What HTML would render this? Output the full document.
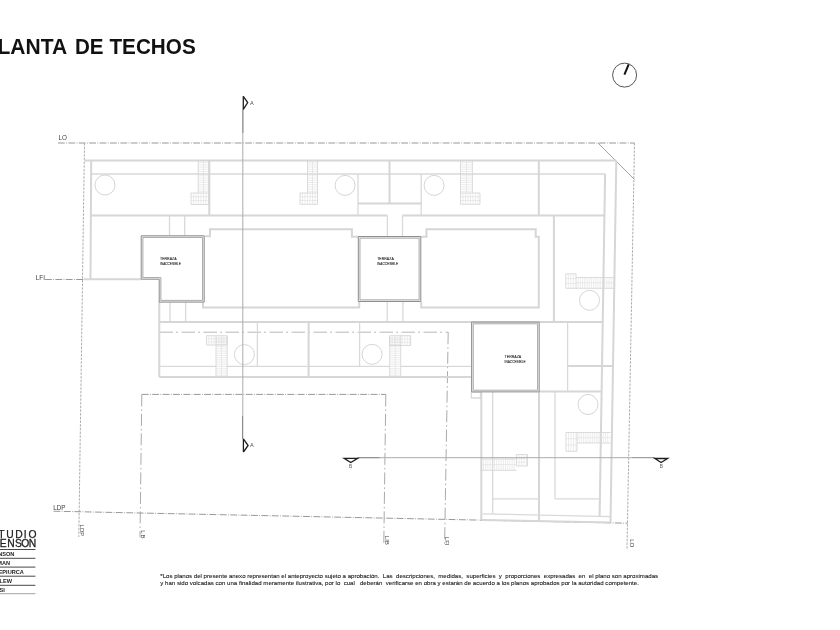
<!DOCTYPE html>
<html><head><meta charset="utf-8"><title>Planta de techos</title>
<style>
html,body{margin:0;padding:0;background:#fff;}
body{width:840px;height:630px;overflow:hidden;position:relative;font-family:"Liberation Sans",sans-serif;}
svg{position:absolute;left:0;top:0;filter:grayscale(1);}
text{font-family:"Liberation Sans",sans-serif;}
.t{stroke:#d9d9d9;stroke-width:1.3;fill:none;}
.w{stroke:#d6d6d6;stroke-width:2;fill:none;}
.dd{stroke:#8c8c8c;stroke-width:0.9;fill:none;stroke-dasharray:6.8 1.4 0.8 1.4;}
.dv{stroke:#a4a4a4;stroke-width:0.9;fill:none;stroke-dasharray:2.5 1.2;}
.dl{stroke:#b8b8b8;stroke-width:1;fill:none;stroke-dasharray:13.5 3 2 3.5;}
.dr{stroke:#a0a0a0;stroke-width:0.9;fill:none;stroke-dasharray:12 3 1.5 3;}
.dg{stroke:#888;stroke-width:0.8;fill:none;}
.ci{stroke:#d0d0d0;stroke-width:0.9;fill:none;}
.st{stroke:#d2d2d2;stroke-width:0.8;fill:none;}
.sh{stroke:#dedede;stroke-width:0.6;fill:none;}
.tr{stroke:#8e8e8e;stroke-width:1;fill:none;}
.trb{stroke:#ececec;stroke-width:1.8;fill:none;}
.tri{stroke:#a6a6a6;stroke-width:0.9;fill:none;}
.sc{stroke:#acacac;stroke-width:1;fill:none;}
.sm{stroke:#8a8a8a;stroke-width:1;fill:none;}
.tri2{stroke:#1e1e1e;stroke-width:1.3;fill:none;stroke-linejoin:miter;}
.tz{font-size:4.3px;fill:#2a2a2a;stroke:#2a2a2a;stroke-width:0.12;}
.sl{font-size:4.8px;fill:#555;}
.sla{font-size:5.5px;fill:#4a4a4a;}
.lb{font-size:6.3px;fill:#3c3c3c;}
.lr{font-size:6.0px;fill:#444;}
.ttl{font-size:21px;font-weight:bold;fill:#111;}
.ft{font-size:6.08px;fill:#1a1a1a;stroke:#1a1a1a;stroke-width:0.1;white-space:pre;}
.nm{font-size:5.6px;font-weight:bold;fill:#222;}
</style></head><body>
<svg width="840" height="630" viewBox="0 0 840 630">
<g transform="translate(0 53.6) scale(1 1.08) translate(0 -53.6)">
<text class="ttl" x="-2.5" y="53.6">LANTA</text>
<text class="ttl" x="75" y="53.6" textLength="28.6" lengthAdjust="spacingAndGlyphs">DE</text>
<text class="ttl" x="109.5" y="53.6" textLength="86.2" lengthAdjust="spacingAndGlyphs">TECHOS</text>
</g>
<g id="plan">
<line class="dd" x1="58" y1="143" x2="634.5" y2="143"/>
<line class="dg" x1="598" y1="143" x2="634.5" y2="179.5"/>
<line class="dv" x1="84.5" y1="143" x2="78.8" y2="537"/>
<line class="dv" x1="634.5" y1="143" x2="627" y2="549"/>
<line class="dd" x1="45" y1="279.5" x2="141" y2="279.5"/>
<line class="w" x1="83.5" y1="279.3" x2="141" y2="279.3"/>
<line class="dd" x1="53.5" y1="511.2" x2="627.6" y2="523.2"/>
<line class="dd" x1="141.8" y1="394.4" x2="385.8" y2="394.4"/>
<line class="dr" x1="141.8" y1="394.4" x2="140" y2="537.5"/>
<line class="dr" x1="385.8" y1="394.4" x2="383.8" y2="543"/>
<line class="dl" x1="159.5" y1="332.2" x2="448.2" y2="332.2"/>
<line class="dr" x1="448.2" y1="332.2" x2="444.6" y2="545"/>
<line class="w" x1="84.5" y1="160.4" x2="616.3" y2="160.4"/>
<line class="t" x1="91.2" y1="174" x2="605" y2="174"/>
<line class="w" x1="91.2" y1="215.5" x2="387.4" y2="215.5"/>
<line class="w" x1="402.5" y1="215.5" x2="605" y2="215.5"/>
<line class="w" x1="91.2" y1="160.5" x2="90.5" y2="279.3"/>
<line class="w" x1="209.3" y1="160.5" x2="209.3" y2="215.5"/>
<line class="t" x1="358" y1="174" x2="358" y2="215.5"/>
<line class="w" x1="389.5" y1="160.5" x2="389.5" y2="203.5"/>
<line class="t" x1="421.2" y1="174" x2="421.2" y2="215.5"/>
<line class="w" x1="358" y1="203.5" x2="421.2" y2="203.5"/>
<line class="w" x1="538.8" y1="160.5" x2="538.8" y2="215.5"/>
<line class="w" x1="616.3" y1="160.4" x2="610.5" y2="522.4"/>
<line class="w" x1="605.1" y1="174" x2="599.6" y2="516.5"/>
<circle class="ci" cx="105" cy="185" r="10"/>
<circle class="ci" cx="345.1" cy="185.4" r="10"/>
<circle class="ci" cx="434.1" cy="185.4" r="10"/>
<line class="st" x1="198.2" y1="160.5" x2="198.2" y2="193"/>
<line class="st" x1="208.8" y1="160.5" x2="208.8" y2="193"/>
<line class="sh" x1="198.2" y1="162.7" x2="208.8" y2="162.7"/>
<line class="sh" x1="198.2" y1="164.9" x2="208.8" y2="164.9"/>
<line class="sh" x1="198.2" y1="167.1" x2="208.8" y2="167.1"/>
<line class="sh" x1="198.2" y1="169.3" x2="208.8" y2="169.3"/>
<line class="sh" x1="198.2" y1="171.5" x2="208.8" y2="171.5"/>
<line class="sh" x1="198.2" y1="173.7" x2="208.8" y2="173.7"/>
<line class="sh" x1="198.2" y1="175.9" x2="208.8" y2="175.9"/>
<line class="sh" x1="198.2" y1="178.1" x2="208.8" y2="178.1"/>
<line class="sh" x1="198.2" y1="180.3" x2="208.8" y2="180.3"/>
<line class="sh" x1="198.2" y1="182.5" x2="208.8" y2="182.5"/>
<line class="sh" x1="198.2" y1="184.7" x2="208.8" y2="184.7"/>
<line class="sh" x1="198.2" y1="186.9" x2="208.8" y2="186.9"/>
<line class="sh" x1="198.2" y1="189.1" x2="208.8" y2="189.1"/>
<line class="sh" x1="198.2" y1="191.3" x2="208.8" y2="191.3"/>
<line class="sh" x1="203.5" y1="160.5" x2="203.5" y2="193"/>
<path class="st" d="M191 193 L208.8 193 L208.8 204.5 L191 204.5 Z"/>
<line class="sh" x1="191" y1="196.83" x2="208.8" y2="196.83"/>
<line class="sh" x1="191" y1="200.67" x2="208.8" y2="200.67"/>
<line class="sh" x1="193.5" y1="193" x2="193.5" y2="204.5"/>
<line class="sh" x1="196" y1="193" x2="196" y2="204.5"/>
<line class="sh" x1="198.5" y1="193" x2="198.5" y2="204.5"/>
<line class="sh" x1="201" y1="193" x2="201" y2="204.5"/>
<line class="sh" x1="203.5" y1="193" x2="203.5" y2="204.5"/>
<line class="sh" x1="206" y1="193" x2="206" y2="204.5"/>
<line class="st" x1="307.5" y1="160.5" x2="307.5" y2="193"/>
<line class="st" x1="317.5" y1="160.5" x2="317.5" y2="193"/>
<line class="sh" x1="307.5" y1="162.7" x2="317.5" y2="162.7"/>
<line class="sh" x1="307.5" y1="164.9" x2="317.5" y2="164.9"/>
<line class="sh" x1="307.5" y1="167.1" x2="317.5" y2="167.1"/>
<line class="sh" x1="307.5" y1="169.3" x2="317.5" y2="169.3"/>
<line class="sh" x1="307.5" y1="171.5" x2="317.5" y2="171.5"/>
<line class="sh" x1="307.5" y1="173.7" x2="317.5" y2="173.7"/>
<line class="sh" x1="307.5" y1="175.9" x2="317.5" y2="175.9"/>
<line class="sh" x1="307.5" y1="178.1" x2="317.5" y2="178.1"/>
<line class="sh" x1="307.5" y1="180.3" x2="317.5" y2="180.3"/>
<line class="sh" x1="307.5" y1="182.5" x2="317.5" y2="182.5"/>
<line class="sh" x1="307.5" y1="184.7" x2="317.5" y2="184.7"/>
<line class="sh" x1="307.5" y1="186.9" x2="317.5" y2="186.9"/>
<line class="sh" x1="307.5" y1="189.1" x2="317.5" y2="189.1"/>
<line class="sh" x1="307.5" y1="191.3" x2="317.5" y2="191.3"/>
<line class="sh" x1="312.5" y1="160.5" x2="312.5" y2="193"/>
<path class="st" d="M300 193 L317.5 193 L317.5 204.3 L300 204.3 Z"/>
<line class="sh" x1="300" y1="196.77" x2="317.5" y2="196.77"/>
<line class="sh" x1="300" y1="200.53" x2="317.5" y2="200.53"/>
<line class="sh" x1="302.5" y1="193" x2="302.5" y2="204.3"/>
<line class="sh" x1="305" y1="193" x2="305" y2="204.3"/>
<line class="sh" x1="307.5" y1="193" x2="307.5" y2="204.3"/>
<line class="sh" x1="310" y1="193" x2="310" y2="204.3"/>
<line class="sh" x1="312.5" y1="193" x2="312.5" y2="204.3"/>
<line class="sh" x1="315" y1="193" x2="315" y2="204.3"/>
<line class="st" x1="460.5" y1="160.5" x2="460.5" y2="193"/>
<line class="st" x1="472.4" y1="160.5" x2="472.4" y2="193"/>
<line class="sh" x1="460.5" y1="162.7" x2="472.4" y2="162.7"/>
<line class="sh" x1="460.5" y1="164.9" x2="472.4" y2="164.9"/>
<line class="sh" x1="460.5" y1="167.1" x2="472.4" y2="167.1"/>
<line class="sh" x1="460.5" y1="169.3" x2="472.4" y2="169.3"/>
<line class="sh" x1="460.5" y1="171.5" x2="472.4" y2="171.5"/>
<line class="sh" x1="460.5" y1="173.7" x2="472.4" y2="173.7"/>
<line class="sh" x1="460.5" y1="175.9" x2="472.4" y2="175.9"/>
<line class="sh" x1="460.5" y1="178.1" x2="472.4" y2="178.1"/>
<line class="sh" x1="460.5" y1="180.3" x2="472.4" y2="180.3"/>
<line class="sh" x1="460.5" y1="182.5" x2="472.4" y2="182.5"/>
<line class="sh" x1="460.5" y1="184.7" x2="472.4" y2="184.7"/>
<line class="sh" x1="460.5" y1="186.9" x2="472.4" y2="186.9"/>
<line class="sh" x1="460.5" y1="189.1" x2="472.4" y2="189.1"/>
<line class="sh" x1="460.5" y1="191.3" x2="472.4" y2="191.3"/>
<line class="sh" x1="466.45" y1="160.5" x2="466.45" y2="193"/>
<path class="st" d="M460.5 193 L480 193 L480 204.3 L460.5 204.3 Z"/>
<line class="sh" x1="460.5" y1="196.77" x2="480" y2="196.77"/>
<line class="sh" x1="460.5" y1="200.53" x2="480" y2="200.53"/>
<line class="sh" x1="463" y1="193" x2="463" y2="204.3"/>
<line class="sh" x1="465.5" y1="193" x2="465.5" y2="204.3"/>
<line class="sh" x1="468" y1="193" x2="468" y2="204.3"/>
<line class="sh" x1="470.5" y1="193" x2="470.5" y2="204.3"/>
<line class="sh" x1="473" y1="193" x2="473" y2="204.3"/>
<line class="sh" x1="475.5" y1="193" x2="475.5" y2="204.3"/>
<line class="sh" x1="478" y1="193" x2="478" y2="204.3"/>
<line class="t" x1="169.5" y1="215.5" x2="169.5" y2="235.5"/>
<line class="t" x1="184.7" y1="215.5" x2="184.7" y2="235.5"/>
<line class="t" x1="387.4" y1="215.5" x2="387.4" y2="236.5"/>
<line class="t" x1="402.5" y1="215.5" x2="402.5" y2="236.5"/>
<line class="w" x1="553.9" y1="215.5" x2="553.9" y2="322"/>
<path class="w" d="M205 236.3 L210 236.3 L210 229.2 L351.9 229.2 L351.9 236.7 L358 236.7"/>
<path class="w" d="M203 301.8 L203 307.6 L359.2 307.6 L359.2 301.5"/>
<path class="w" d="M421.2 236.7 L426.5 236.7 L426.5 229.2 L535.7 229.2 L535.7 236.7 L538.8 236.7 L538.8 307.6 L421.2 307.6 L421.2 301.5"/>
<line class="t" x1="170" y1="301.5" x2="170" y2="322"/>
<line class="t" x1="185.6" y1="301.5" x2="185.6" y2="322"/>
<line class="t" x1="387.2" y1="301.5" x2="387.2" y2="322"/>
<line class="t" x1="402.9" y1="301.5" x2="402.9" y2="322"/>
<line class="st" x1="576" y1="277.5" x2="614.5" y2="277.5"/>
<line class="st" x1="576" y1="288.3" x2="614.5" y2="288.3"/>
<line class="sh" x1="578.2" y1="277.5" x2="578.2" y2="288.3"/>
<line class="sh" x1="580.4" y1="277.5" x2="580.4" y2="288.3"/>
<line class="sh" x1="582.6" y1="277.5" x2="582.6" y2="288.3"/>
<line class="sh" x1="584.8" y1="277.5" x2="584.8" y2="288.3"/>
<line class="sh" x1="587" y1="277.5" x2="587" y2="288.3"/>
<line class="sh" x1="589.2" y1="277.5" x2="589.2" y2="288.3"/>
<line class="sh" x1="591.4" y1="277.5" x2="591.4" y2="288.3"/>
<line class="sh" x1="593.6" y1="277.5" x2="593.6" y2="288.3"/>
<line class="sh" x1="595.8" y1="277.5" x2="595.8" y2="288.3"/>
<line class="sh" x1="598" y1="277.5" x2="598" y2="288.3"/>
<line class="sh" x1="600.2" y1="277.5" x2="600.2" y2="288.3"/>
<line class="sh" x1="602.4" y1="277.5" x2="602.4" y2="288.3"/>
<line class="sh" x1="604.6" y1="277.5" x2="604.6" y2="288.3"/>
<line class="sh" x1="606.8" y1="277.5" x2="606.8" y2="288.3"/>
<line class="sh" x1="609" y1="277.5" x2="609" y2="288.3"/>
<line class="sh" x1="611.2" y1="277.5" x2="611.2" y2="288.3"/>
<line class="sh" x1="613.4" y1="277.5" x2="613.4" y2="288.3"/>
<line class="sh" x1="576" y1="282.9" x2="614.5" y2="282.9"/>
<path class="st" d="M565.8 273.8 L576 273.8 L576 288.3 L565.8 288.3 Z"/>
<line class="sh" x1="565.8" y1="278.63" x2="576" y2="278.63"/>
<line class="sh" x1="565.8" y1="283.47" x2="576" y2="283.47"/>
<line class="sh" x1="568.3" y1="273.8" x2="568.3" y2="288.3"/>
<line class="sh" x1="570.8" y1="273.8" x2="570.8" y2="288.3"/>
<line class="sh" x1="573.3" y1="273.8" x2="573.3" y2="288.3"/>
<circle class="ci" cx="589.5" cy="300.3" r="10"/>
<line class="w" x1="159.3" y1="301.5" x2="159.3" y2="377.1"/>
<line class="w" x1="159.3" y1="322" x2="603.3" y2="322"/>
<line class="t" x1="159.3" y1="366.4" x2="216" y2="366.4"/>
<line class="t" x1="227.1" y1="366.4" x2="389.7" y2="366.4"/>
<line class="t" x1="400.7" y1="366.4" x2="471.4" y2="366.4"/>
<line class="w" x1="159.3" y1="377.1" x2="471.4" y2="377.1"/>
<line class="t" x1="257.4" y1="322" x2="257.4" y2="366.4"/>
<line class="w" x1="308.6" y1="322" x2="308.6" y2="377.1"/>
<line class="t" x1="359.6" y1="322" x2="359.6" y2="366.4"/>
<circle class="ci" cx="244.4" cy="354.6" r="10"/>
<circle class="ci" cx="372.1" cy="354.3" r="10"/>
<line class="st" x1="216" y1="335.7" x2="216" y2="376.6"/>
<line class="st" x1="227.1" y1="335.7" x2="227.1" y2="376.6"/>
<line class="sh" x1="216" y1="337.9" x2="227.1" y2="337.9"/>
<line class="sh" x1="216" y1="340.1" x2="227.1" y2="340.1"/>
<line class="sh" x1="216" y1="342.3" x2="227.1" y2="342.3"/>
<line class="sh" x1="216" y1="344.5" x2="227.1" y2="344.5"/>
<line class="sh" x1="216" y1="346.7" x2="227.1" y2="346.7"/>
<line class="sh" x1="216" y1="348.9" x2="227.1" y2="348.9"/>
<line class="sh" x1="216" y1="351.1" x2="227.1" y2="351.1"/>
<line class="sh" x1="216" y1="353.3" x2="227.1" y2="353.3"/>
<line class="sh" x1="216" y1="355.5" x2="227.1" y2="355.5"/>
<line class="sh" x1="216" y1="357.7" x2="227.1" y2="357.7"/>
<line class="sh" x1="216" y1="359.9" x2="227.1" y2="359.9"/>
<line class="sh" x1="216" y1="362.1" x2="227.1" y2="362.1"/>
<line class="sh" x1="216" y1="364.3" x2="227.1" y2="364.3"/>
<line class="sh" x1="216" y1="366.5" x2="227.1" y2="366.5"/>
<line class="sh" x1="216" y1="368.7" x2="227.1" y2="368.7"/>
<line class="sh" x1="216" y1="370.9" x2="227.1" y2="370.9"/>
<line class="sh" x1="216" y1="373.1" x2="227.1" y2="373.1"/>
<line class="sh" x1="216" y1="375.3" x2="227.1" y2="375.3"/>
<line class="sh" x1="221.55" y1="335.7" x2="221.55" y2="376.6"/>
<path class="st" d="M206.4 335.7 L227.1 335.7 L227.1 345 L206.4 345 Z"/>
<line class="sh" x1="206.4" y1="338.8" x2="227.1" y2="338.8"/>
<line class="sh" x1="206.4" y1="341.9" x2="227.1" y2="341.9"/>
<line class="sh" x1="208.9" y1="335.7" x2="208.9" y2="345"/>
<line class="sh" x1="211.4" y1="335.7" x2="211.4" y2="345"/>
<line class="sh" x1="213.9" y1="335.7" x2="213.9" y2="345"/>
<line class="sh" x1="216.4" y1="335.7" x2="216.4" y2="345"/>
<line class="sh" x1="218.9" y1="335.7" x2="218.9" y2="345"/>
<line class="sh" x1="221.4" y1="335.7" x2="221.4" y2="345"/>
<line class="sh" x1="223.9" y1="335.7" x2="223.9" y2="345"/>
<line class="sh" x1="226.4" y1="335.7" x2="226.4" y2="345"/>
<line class="st" x1="389.7" y1="335.7" x2="389.7" y2="376.6"/>
<line class="st" x1="400.7" y1="335.7" x2="400.7" y2="376.6"/>
<line class="sh" x1="389.7" y1="337.9" x2="400.7" y2="337.9"/>
<line class="sh" x1="389.7" y1="340.1" x2="400.7" y2="340.1"/>
<line class="sh" x1="389.7" y1="342.3" x2="400.7" y2="342.3"/>
<line class="sh" x1="389.7" y1="344.5" x2="400.7" y2="344.5"/>
<line class="sh" x1="389.7" y1="346.7" x2="400.7" y2="346.7"/>
<line class="sh" x1="389.7" y1="348.9" x2="400.7" y2="348.9"/>
<line class="sh" x1="389.7" y1="351.1" x2="400.7" y2="351.1"/>
<line class="sh" x1="389.7" y1="353.3" x2="400.7" y2="353.3"/>
<line class="sh" x1="389.7" y1="355.5" x2="400.7" y2="355.5"/>
<line class="sh" x1="389.7" y1="357.7" x2="400.7" y2="357.7"/>
<line class="sh" x1="389.7" y1="359.9" x2="400.7" y2="359.9"/>
<line class="sh" x1="389.7" y1="362.1" x2="400.7" y2="362.1"/>
<line class="sh" x1="389.7" y1="364.3" x2="400.7" y2="364.3"/>
<line class="sh" x1="389.7" y1="366.5" x2="400.7" y2="366.5"/>
<line class="sh" x1="389.7" y1="368.7" x2="400.7" y2="368.7"/>
<line class="sh" x1="389.7" y1="370.9" x2="400.7" y2="370.9"/>
<line class="sh" x1="389.7" y1="373.1" x2="400.7" y2="373.1"/>
<line class="sh" x1="389.7" y1="375.3" x2="400.7" y2="375.3"/>
<line class="sh" x1="395.2" y1="335.7" x2="395.2" y2="376.6"/>
<path class="st" d="M389.7 335.7 L410.7 335.7 L410.7 345.5 L389.7 345.5 Z"/>
<line class="sh" x1="389.7" y1="338.97" x2="410.7" y2="338.97"/>
<line class="sh" x1="389.7" y1="342.23" x2="410.7" y2="342.23"/>
<line class="sh" x1="392.2" y1="335.7" x2="392.2" y2="345.5"/>
<line class="sh" x1="394.7" y1="335.7" x2="394.7" y2="345.5"/>
<line class="sh" x1="397.2" y1="335.7" x2="397.2" y2="345.5"/>
<line class="sh" x1="399.7" y1="335.7" x2="399.7" y2="345.5"/>
<line class="sh" x1="402.2" y1="335.7" x2="402.2" y2="345.5"/>
<line class="sh" x1="404.7" y1="335.7" x2="404.7" y2="345.5"/>
<line class="sh" x1="407.2" y1="335.7" x2="407.2" y2="345.5"/>
<line class="sh" x1="409.7" y1="335.7" x2="409.7" y2="345.5"/>
<line class="t" x1="567.6" y1="322" x2="567.6" y2="391.4"/>
<line class="w" x1="567.6" y1="366" x2="613.3" y2="366"/>
<line class="w" x1="538.8" y1="391.4" x2="601.3" y2="391.4"/>
<circle class="ci" cx="588" cy="404.5" r="10"/>
<line class="st" x1="577" y1="432.5" x2="610.5" y2="432.5"/>
<line class="st" x1="577" y1="443" x2="610.5" y2="443"/>
<line class="sh" x1="579.2" y1="432.5" x2="579.2" y2="443"/>
<line class="sh" x1="581.4" y1="432.5" x2="581.4" y2="443"/>
<line class="sh" x1="583.6" y1="432.5" x2="583.6" y2="443"/>
<line class="sh" x1="585.8" y1="432.5" x2="585.8" y2="443"/>
<line class="sh" x1="588" y1="432.5" x2="588" y2="443"/>
<line class="sh" x1="590.2" y1="432.5" x2="590.2" y2="443"/>
<line class="sh" x1="592.4" y1="432.5" x2="592.4" y2="443"/>
<line class="sh" x1="594.6" y1="432.5" x2="594.6" y2="443"/>
<line class="sh" x1="596.8" y1="432.5" x2="596.8" y2="443"/>
<line class="sh" x1="599" y1="432.5" x2="599" y2="443"/>
<line class="sh" x1="601.2" y1="432.5" x2="601.2" y2="443"/>
<line class="sh" x1="603.4" y1="432.5" x2="603.4" y2="443"/>
<line class="sh" x1="605.6" y1="432.5" x2="605.6" y2="443"/>
<line class="sh" x1="607.8" y1="432.5" x2="607.8" y2="443"/>
<line class="sh" x1="577" y1="437.75" x2="610.5" y2="437.75"/>
<path class="st" d="M566 432.5 L577 432.5 L577 451.3 L566 451.3 Z"/>
<line class="sh" x1="566" y1="438.77" x2="577" y2="438.77"/>
<line class="sh" x1="566" y1="445.03" x2="577" y2="445.03"/>
<line class="sh" x1="568.5" y1="432.5" x2="568.5" y2="451.3"/>
<line class="sh" x1="571" y1="432.5" x2="571" y2="451.3"/>
<line class="sh" x1="573.5" y1="432.5" x2="573.5" y2="451.3"/>
<line class="sh" x1="576" y1="432.5" x2="576" y2="451.3"/>
<path class="t" d="M471.4 392 L480.5 392 L480.5 398 L471.4 398 Z"/>
<line class="w" x1="481.3" y1="392" x2="481.3" y2="520"/>
<line class="t" x1="492.7" y1="392" x2="492.7" y2="513.8"/>
<line class="w" x1="539" y1="392" x2="539" y2="520.8"/>
<line class="t" x1="555" y1="392" x2="555" y2="498.8"/>
<line class="t" x1="492.7" y1="498.8" x2="538.8" y2="498.8"/>
<line class="t" x1="555" y1="498.8" x2="599.8" y2="498.8"/>
<line class="t" x1="482.5" y1="513.8" x2="610.5" y2="516.6"/>
<line class="w" x1="481.3" y1="520" x2="610.5" y2="522.4"/>
<line class="st" x1="481.3" y1="459" x2="516.5" y2="459"/>
<line class="st" x1="481.3" y1="470.3" x2="516.5" y2="470.3"/>
<line class="sh" x1="483.5" y1="459" x2="483.5" y2="470.3"/>
<line class="sh" x1="485.7" y1="459" x2="485.7" y2="470.3"/>
<line class="sh" x1="487.9" y1="459" x2="487.9" y2="470.3"/>
<line class="sh" x1="490.1" y1="459" x2="490.1" y2="470.3"/>
<line class="sh" x1="492.3" y1="459" x2="492.3" y2="470.3"/>
<line class="sh" x1="494.5" y1="459" x2="494.5" y2="470.3"/>
<line class="sh" x1="496.7" y1="459" x2="496.7" y2="470.3"/>
<line class="sh" x1="498.9" y1="459" x2="498.9" y2="470.3"/>
<line class="sh" x1="501.1" y1="459" x2="501.1" y2="470.3"/>
<line class="sh" x1="503.3" y1="459" x2="503.3" y2="470.3"/>
<line class="sh" x1="505.5" y1="459" x2="505.5" y2="470.3"/>
<line class="sh" x1="507.7" y1="459" x2="507.7" y2="470.3"/>
<line class="sh" x1="509.9" y1="459" x2="509.9" y2="470.3"/>
<line class="sh" x1="512.1" y1="459" x2="512.1" y2="470.3"/>
<line class="sh" x1="514.3" y1="459" x2="514.3" y2="470.3"/>
<line class="sh" x1="481.3" y1="464.65" x2="516.5" y2="464.65"/>
<path class="st" d="M516.5 454.5 L527.5 454.5 L527.5 466 L516.5 466 Z"/>
<line class="sh" x1="516.5" y1="458.33" x2="527.5" y2="458.33"/>
<line class="sh" x1="516.5" y1="462.17" x2="527.5" y2="462.17"/>
<line class="sh" x1="519" y1="454.5" x2="519" y2="466"/>
<line class="sh" x1="521.5" y1="454.5" x2="521.5" y2="466"/>
<line class="sh" x1="524" y1="454.5" x2="524" y2="466"/>
<line class="sh" x1="526.5" y1="454.5" x2="526.5" y2="466"/>
<path class="trb" d="M142.05 236.65 L203.35 236.65 L203.35 301.25 L160.05 301.25 L160.05 278.35 L142.05 278.35 Z"/>
<path class="tr" d="M141.2 235.8 L204.2 235.8 L204.2 302.1 L159.2 302.1 L159.2 279.2 L141.2 279.2 Z"/>
<path class="tri" d="M142.9 237.5 L202.5 237.5 L202.5 300.4 L160.9 300.4 L160.9 277.5 L142.9 277.5 Z"/>
<path class="trb" d="M359.15 237.35 L419.95 237.35 L419.95 300.65 L359.15 300.65 Z"/>
<path class="tr" d="M358.3 236.5 L420.8 236.5 L420.8 301.5 L358.3 301.5 Z"/>
<path class="tri" d="M360 238.2 L419.1 238.2 L419.1 299.8 L360 299.8 Z"/>
<path class="trb" d="M472.45 322.95 L538.35 322.95 L538.35 391.05 L472.45 391.05 Z"/>
<path class="tr" d="M471.6 322.1 L539.2 322.1 L539.2 391.9 L471.6 391.9 Z"/>
<path class="tri" d="M473.3 323.8 L537.5 323.8 L537.5 390.2 L473.3 390.2 Z"/>
<text class="tz" x="160" y="259.8" textLength="16.6" lengthAdjust="spacingAndGlyphs">TERRAZA</text>
<text class="tz" x="160" y="264.9" textLength="20.9" lengthAdjust="spacingAndGlyphs">INACCESIBLE</text>
<text class="tz" x="377.2" y="259.8" textLength="16.6" lengthAdjust="spacingAndGlyphs">TERRAZA</text>
<text class="tz" x="377.2" y="264.9" textLength="20.9" lengthAdjust="spacingAndGlyphs">INACCESIBLE</text>
<text class="tz" x="504.6" y="357.9" textLength="16.6" lengthAdjust="spacingAndGlyphs">TERRAZA</text>
<text class="tz" x="504.6" y="363" textLength="20.9" lengthAdjust="spacingAndGlyphs">INACCESIBLE</text>
<line class="sc" x1="242.8" y1="109.5" x2="242.8" y2="439"/>
<line class="sm" x1="242.9" y1="109.5" x2="242.9" y2="133"/>
<line class="sm" x1="242.5" y1="416" x2="242.5" y2="439"/>
<path class="tri2" d="M243.3 96.3 L247.7 102.5 L243.3 109.4"/>
<path class="tri2" d="M243.3 96.3 L243.3 109.4"/>
<path class="tri2" d="M243.4 438.9 L248.1 445.5 L243.4 452"/>
<path class="tri2" d="M243.4 438.9 L243.4 452"/>
<text class="sla" x="250.1" y="104.9">A</text>
<text class="sla" x="250.1" y="446.8">A</text>
<line class="sc" x1="357.6" y1="457.7" x2="632" y2="457.7"/>
<line class="sm" x1="357.6" y1="457.7" x2="379.5" y2="457.7"/>
<line class="sm" x1="632" y1="457.7" x2="654.8" y2="457.7"/>
<path class="tri2" d="M344.2 458.3 L357.6 458.3 L350.8 462.5 Z"/>
<path class="tri2" d="M654.8 458.5 L667.6 458.5 L661.1 462.5 Z"/>
<text class="sl" x="348.9" y="468">B</text>
<text class="sl" x="659.7" y="468">B</text>
<text class="lb" x="58.6" y="140.1">LO</text>
<text class="lb" x="35.8" y="279.6">LFI</text>
<text class="lb" x="53.2" y="509.6">LDP</text>
<text class="lr" transform="translate(80.2 524.6) rotate(90)">LDP</text>
<text class="lr" letter-spacing="0.9" transform="translate(140.6 530.2) rotate(90)">LB</text>
<text class="lr" transform="translate(384.5 535.8) rotate(90)">LIB</text>
<text class="lr" transform="translate(445.2 536.8) rotate(90)">LFI</text>
<text class="lr" transform="translate(629.6 539.2) rotate(90)">LO</text>
</g>
<circle cx="624.6" cy="75.1" r="12" stroke="#555" stroke-width="1" fill="none"/>
<line x1="624.4" y1="74.6" x2="628.7" y2="64.3" stroke="#111" stroke-width="2"/>
<text x="-1.8 6.3 15.2 23.7 28.5" y="537.6" font-size="10.3" fill="#222" stroke="#222" stroke-width="0.25">TUDIO</text>
<text x="-7.9 -0.3 7.3 14.9 21.2 28.8" y="547.2" font-size="10.3" fill="#222" stroke="#222" stroke-width="0.3">BENSON</text>
<line x1="0" y1="549.5" x2="35.4" y2="549.5" stroke="#333" stroke-width="0.9"/>
<line x1="0" y1="558.3" x2="35.4" y2="558.3" stroke="#333" stroke-width="0.9"/>
<line x1="0" y1="567.1" x2="35.4" y2="567.1" stroke="#333" stroke-width="0.9"/>
<line x1="0" y1="576.2" x2="35.4" y2="576.2" stroke="#333" stroke-width="0.9"/>
<line x1="0" y1="585.3" x2="35.4" y2="585.3" stroke="#333" stroke-width="0.9"/>
<line x1="0" y1="593.7" x2="35.4" y2="593.7" stroke="#999" stroke-width="0.9"/>
<text class="nm" x="14.3" y="556.3" text-anchor="end">BENSON</text>
<text class="nm" x="10.1" y="565" text-anchor="end">HERMAN</text>
<text class="nm" x="23.8" y="574.4" text-anchor="end">DEPIURCA</text>
<text class="nm" x="12" y="583.1" text-anchor="end">CLEW</text>
<text class="nm" x="4.8" y="592.1" text-anchor="end">OSI</text>
<text class="ft" x="160.3" y="577.5" textLength="497.8" lengthAdjust="spacing">*Los planos del presente anexo representan el anteproyecto sujeto a aprobaci&#243;n.  Las  descripciones,  medidas,  superficies  y  proporciones  expresadas  en  el plano son aproximadas</text>
<text class="ft" x="160.3" y="584.6" textLength="478.6" lengthAdjust="spacing">y han sido volcadas con una finalidad meramente ilustrativa, por lo  cual   deber&#225;n  verificarse en obra y estar&#225;n de acuerdo a los planos aprobados por la autoridad competente.</text>
</svg>
</body></html>
